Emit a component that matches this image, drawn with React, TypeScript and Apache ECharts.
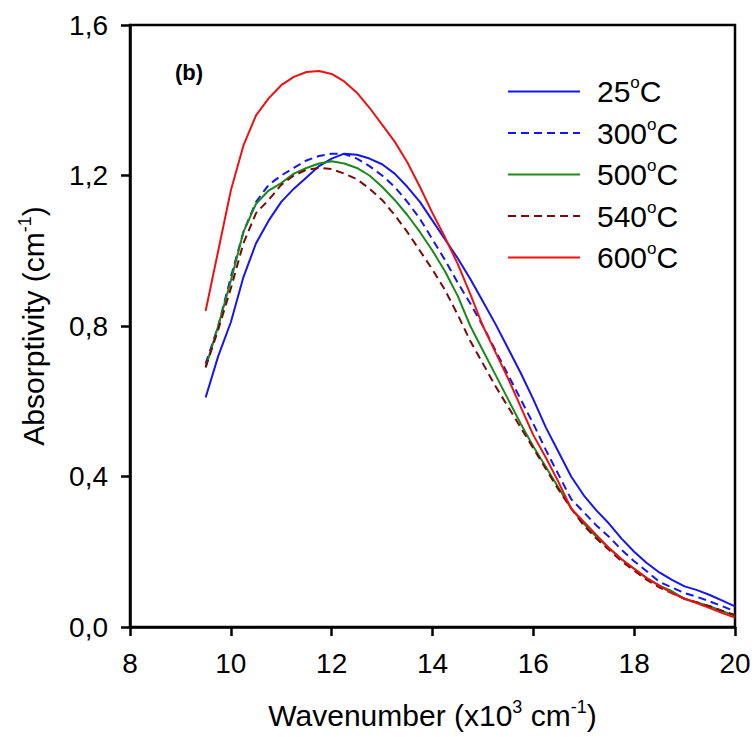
import React, { useEffect, useRef } from "react";
import * as echarts from "echarts";

const wavenumber = [9.5, 9.75, 10, 10.25, 10.5, 10.75, 11, 11.25, 11.5, 11.75, 12, 12.25, 12.5, 12.75, 13, 13.25, 13.5, 13.75, 14, 14.25, 14.5, 14.75, 15, 15.25, 15.5, 15.75, 16, 16.25, 16.5, 16.75, 17, 17.25, 17.5, 17.75, 18, 18.25, 18.5, 18.75, 19, 19.25, 19.5, 19.75, 20];

const t25 = [0.61, 0.72, 0.81, 0.93, 1.02, 1.08, 1.13, 1.165, 1.195, 1.225, 1.245, 1.258, 1.255, 1.245, 1.23, 1.205, 1.17, 1.13, 1.08, 1.03, 0.98, 0.925, 0.865, 0.805, 0.74, 0.675, 0.605, 0.53, 0.465, 0.4, 0.35, 0.31, 0.275, 0.235, 0.2, 0.17, 0.145, 0.125, 0.108, 0.098, 0.085, 0.07, 0.055];
const t300 = [0.7, 0.8, 0.93, 1.05, 1.13, 1.175, 1.2, 1.22, 1.24, 1.252, 1.258, 1.257, 1.245, 1.225, 1.2, 1.17, 1.13, 1.085, 1.03, 0.975, 0.915, 0.86, 0.8, 0.735, 0.67, 0.605, 0.54, 0.47, 0.405, 0.34, 0.305, 0.27, 0.24, 0.205, 0.175, 0.148, 0.12, 0.105, 0.09, 0.08, 0.068, 0.055, 0.042];
const t500 = [0.69, 0.8, 0.92, 1.05, 1.125, 1.16, 1.18, 1.205, 1.22, 1.232, 1.238, 1.232, 1.22, 1.2, 1.17, 1.135, 1.095, 1.05, 1.0, 0.945, 0.88, 0.8, 0.735, 0.67, 0.605, 0.54, 0.48, 0.425, 0.37, 0.315, 0.275, 0.24, 0.21, 0.18, 0.155, 0.13, 0.11, 0.095, 0.075, 0.065, 0.055, 0.042, 0.03];
const t540 = [0.69, 0.79, 0.9, 1.02, 1.1, 1.135, 1.175, 1.2, 1.215, 1.22, 1.217, 1.205, 1.19, 1.165, 1.135, 1.095, 1.05, 1.0, 0.95, 0.895, 0.83, 0.76, 0.7, 0.64, 0.585, 0.53, 0.475, 0.42, 0.365, 0.315, 0.27, 0.235, 0.205, 0.175, 0.15, 0.125, 0.105, 0.09, 0.075, 0.065, 0.055, 0.043, 0.032];
const t600 = [0.84, 1.0, 1.16, 1.28, 1.36, 1.405, 1.44, 1.462, 1.475, 1.478, 1.47, 1.45, 1.42, 1.38, 1.335, 1.29, 1.235, 1.17, 1.1, 1.035, 0.965, 0.885, 0.8, 0.73, 0.66, 0.585, 0.51, 0.45, 0.385, 0.315, 0.28, 0.245, 0.21, 0.18, 0.155, 0.13, 0.11, 0.09, 0.075, 0.063, 0.05, 0.037, 0.025];

const seriesNames = ["25", "300", "500", "540", "600"];
const seriesValues = [t25, t300, t500, t540, t600];
const seriesColors = ["#1515f0", "#1515f0", "#1a8a1a", "#7a0a0a", "#ee1111"];
const seriesDashed = [false, true, false, true, false];

const xTicks = { min: 8, max: 20, interval: 2 };
const yTicks = { min: 0, max: 1.6, interval: 0.4 };

const FONT = "'Liberation Sans', Arial, sans-serif";

export default function App() {
  const ref = useRef<HTMLDivElement>(null);
  useEffect(() => {
    document.body.style.margin = "0";
    const chart = echarts.init(ref.current!, null, { renderer: "svg" });
    const series = seriesNames.map((name, i) => ({
      name,
      type: "line",
      symbol: "none",
      smooth: false,
      data: wavenumber.map((w, k) => [w, seriesValues[i][k]]),
      lineStyle: {
        color: seriesColors[i],
        width: 2,
        type: seriesDashed[i] ? [8, 5] : "solid",
      },
      itemStyle: { color: seriesColors[i] },
    }));
    chart.setOption({
      animation: false,
      backgroundColor: "#ffffff",
      textStyle: { fontFamily: FONT },
      grid: {
        left: 130,
        right: 20,
        top: 25,
        bottom: 110,
        show: true,
        borderColor: "#000",
        borderWidth: 2.5,
      },
      legend: {
        orient: "vertical",
        left: 507,
        top: 74,
        padding: 0,
        itemGap: 9,
        itemWidth: 72,
        itemHeight: 14,
        itemStyle: { opacity: 0, borderWidth: 0 },
        data: seriesNames,
        formatter: (n: string) => `{n|${n}}{s|o}{n|C}`,
        textStyle: {
          fontFamily: FONT,
          color: "#000",
          padding: [0, 0, 0, 12],
          rich: {
            n: { fontSize: 30, lineHeight: 35, fontFamily: FONT, color: "#000" },
            s: { fontSize: 17, lineHeight: 35, fontFamily: FONT, color: "#000", verticalAlign: "top", padding: [0, 0, 12, 0] },
          },
        },
      },
      xAxis: {
        type: "value",
        min: xTicks.min,
        max: xTicks.max,
        interval: xTicks.interval,
        name: "{n|Wavenumber (x10}{s|3}{n| cm}{s|-1}{n|)}",
        nameLocation: "middle",
        nameGap: 71,
        nameTextStyle: {
          rich: {
            n: { fontSize: 30, fontFamily: FONT, color: "#000", lineHeight: 34 },
            s: { fontSize: 18, fontFamily: FONT, color: "#000", lineHeight: 34, verticalAlign: "top", padding: [0, 0, 14, 0] },
          },
        },
        axisLine: { show: true, onZero: false, lineStyle: { color: "#000", width: 2.5 } },
        axisTick: { show: true, inside: false, length: 9, lineStyle: { color: "#000", width: 2.5 } },
        axisLabel: { fontSize: 28, color: "#000", margin: 22, fontFamily: FONT },
        splitLine: { show: false },
      },
      yAxis: {
        type: "value",
        min: yTicks.min,
        max: yTicks.max,
        interval: yTicks.interval,
        name: "{n|Absorptivity (cm}{s|-1}{n|)}",
        nameLocation: "middle",
        nameGap: 80,
        nameRotate: 90,
        nameTextStyle: {
          rich: {
            n: { fontSize: 30, fontFamily: FONT, color: "#000", lineHeight: 34 },
            s: { fontSize: 18, fontFamily: FONT, color: "#000", lineHeight: 34, verticalAlign: "top", padding: [0, 0, 14, 0] },
          },
        },
        axisLine: { show: true, onZero: false, lineStyle: { color: "#000", width: 2.5 } },
        axisTick: { show: true, inside: false, length: 9, lineStyle: { color: "#000", width: 2.5 } },
        axisLabel: {
          fontSize: 28,
          color: "#000",
          margin: 22,
          fontFamily: FONT,
          formatter: (v: number) => v.toFixed(1).replace(".", ","),
        },
        splitLine: { show: false },
      },
      graphic: [
        {
          type: "text",
          left: 175,
          top: 61,
          style: { text: "(b)", font: `bold 22px ${FONT}`, fill: "#000" },
        },
      ],
      series,
    });
    return () => chart.dispose();
  }, []);
  return <div ref={ref} style={{ width: 755, height: 737 }} />;
}
